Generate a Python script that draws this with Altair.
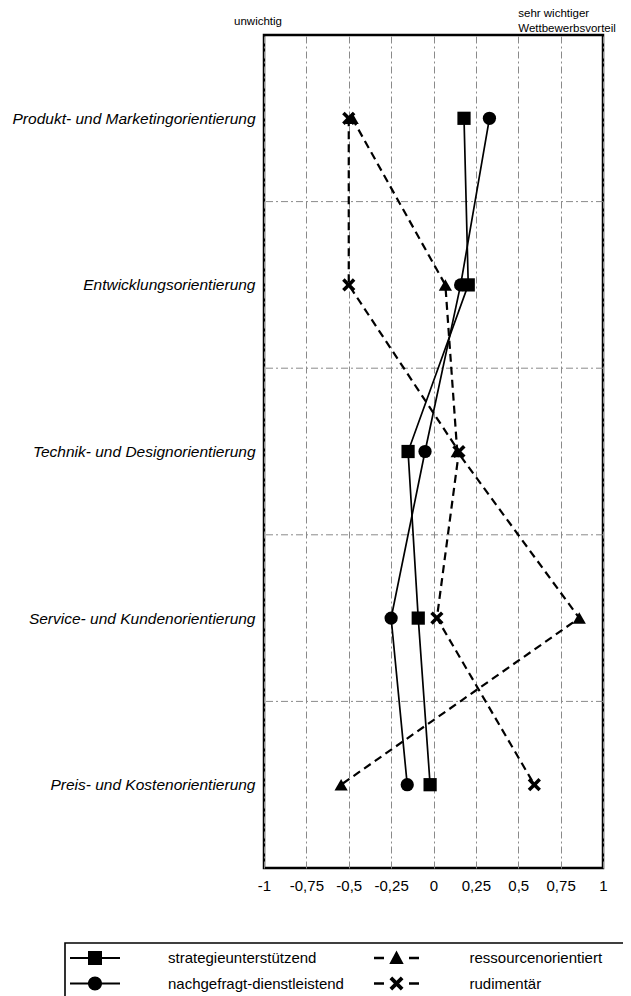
import json
import altair as alt
import pandas as pd

# ---------------- data ----------------
categories = [
    "Produkt- und Marketingorientierung",
    "Entwicklungsorientierung",
    "Technik- und Designorientierung",
    "Service- und Kundenorientierung",
    "Preis- und Kostenorientierung",
]
series_names = [
    "strategieunterstützend",
    "nachgefragt-dienstleistend",
    "ressourcenorientiert",
    "rudimentär",
]
strategieunterstuetzend = [0.18, 0.205, -0.15, -0.09, -0.02]
nachgefragt_dienstleistend = [0.33, 0.16, -0.05, -0.25, -0.155]
ressourcenorientiert = [-0.48, 0.07, 0.14, 0.86, -0.545]
rudimentaer = [-0.50, -0.50, 0.15, 0.02, 0.595]

x_ticks = [-1, -0.75, -0.5, -0.25, 0, 0.25, 0.5, 0.75, 1]
band_edges = [0.5, 1.5, 2.5, 3.5]
label_left = "unwichtig"
label_right = "sehr wichtiger\nWettbewerbsvorteil"

solid_series = series_names[:2]
dashed_series = series_names[2:]

rows = []
for s, vals in zip(series_names, [strategieunterstuetzend, nachgefragt_dienstleistend,
                                  ressourcenorientiert, rudimentaer]):
    for i, v in enumerate(vals):
        rows.append({"serie": s, "idx": i, "kategorie": categories[i], "wert": v})
df = pd.DataFrame(rows)
df_edges = pd.DataFrame({"edge": band_edges})

# ---------------- symbols ----------------
X_PATH = ("M-1,-0.62L-0.62,-1L0,-0.38L0.62,-1L1,-0.62L0.38,0L1,0.62L0.62,1"
          "L0,0.38L-0.62,1L-1,0.62L-0.38,0Z")
# legend glyphs (line + marker); all parts filled, clockwise
TOP = "M0,-1.2"                       # extends entry bounds upward
RIGHT = "M22.3,0"                     # extends right column to the box edge
SOLID_LINE = "M-2.5,-0.1H2.5V0.1H-2.5Z"
DASH_LINE = "M-2.25,-0.12H-1.25V0.12H-2.25ZM1.25,-0.12H2.25V0.12H1.25Z"
SQ = "M-0.7,-0.7H0.7V0.7H-0.7Z"
CI = "M-0.7,0A0.7,0.7 0 1,1 0.7,0A0.7,0.7 0 1,1 -0.7,0Z"
TRI = "M0,-0.75L0.72,0.6L-0.72,0.6Z"
XS = ("M-0.7,-0.43L-0.43,-0.7L0,-0.27L0.43,-0.7L0.7,-0.43L0.27,0L0.7,0.43L0.43,0.7"
      "L0,0.27L-0.43,0.7L-0.7,0.43L-0.27,0Z")
legend_paths = [
    TOP + SOLID_LINE + SQ,
    TOP + SOLID_LINE + CI,
    TOP + RIGHT + DASH_LINE + TRI,
    TOP + RIGHT + DASH_LINE + XS,
]

FONT = "Liberation Sans"
label_expr_y = "[" + ",".join(json.dumps(c) for c in categories) + "][datum.value]"


def x_enc(field):
    return alt.X(
        f"{field}:Q",
        scale=alt.Scale(domain=[-1, 1], nice=False, zero=False),
        axis=alt.Axis(
            values=x_ticks,
            labelExpr="replace(toString(datum.value), '.', ',')",
            title=None, ticks=False, domain=False, grid=True,
            gridColor="#8a8a8a", gridDash=[7, 3, 2, 3], gridWidth=1,
            labelFont=FONT, labelFontSize=15, labelFontWeight="normal",
            labelColor="black", labelPadding=10, labelFlush=False,
        ),
    )


def y_enc(field):
    return alt.Y(
        f"{field}:Q",
        scale=alt.Scale(domain=[-0.5, 4.5], reverse=True, nice=False, zero=False),
        axis=alt.Axis(
            values=[0, 1, 2, 3, 4],
            labelExpr=label_expr_y,
            title=None, ticks=False, domain=False, grid=False,
            labelFont=FONT, labelFontSize=15.5, labelFontStyle="italic",
            labelColor="black", labelPadding=9, labelLimit=400, labelFlush=False,
        ),
    )


grid_rows = alt.Chart(df_edges).mark_rule(
    color="#8a8a8a", strokeDash=[7, 3, 2, 3], strokeWidth=1
).encode(y=y_enc("edge"))

lines_solid = alt.Chart(df).transform_filter(
    alt.FieldOneOfPredicate(field="serie", oneOf=solid_series)
).mark_line(color="black", strokeWidth=1.7).encode(
    x=x_enc("wert"), y=y_enc("idx"), detail="serie:N", order="idx:Q"
)

lines_dashed = alt.Chart(df).transform_filter(
    alt.FieldOneOfPredicate(field="serie", oneOf=dashed_series)
).mark_line(color="black", strokeWidth=2.2, strokeDash=[8, 5]).encode(
    x=x_enc("wert"), y=y_enc("idx"), detail="serie:N", order="idx:Q"
)

points = alt.Chart(df).mark_point(
    filled=True, color="black", size=175, opacity=1
).encode(
    x=x_enc("wert"), y=y_enc("idx"),
    shape=alt.Shape(
        "serie:N",
        scale=alt.Scale(domain=series_names,
                        range=["square", "circle", "triangle-up", X_PATH]),
        legend=None,
    ),
)

legend_layer = alt.Chart(df).transform_filter("false").mark_point(
    filled=True, fill="black", strokeWidth=0, opacity=1
).encode(
    x=x_enc("wert"), y=y_enc("idx"),
    shape=alt.Shape(
        "serie:N",
        scale=alt.Scale(domain=series_names, range=legend_paths),
        legend=alt.Legend(
            title=None, orient="none", legendX=-199, legendY=908,
            columns=2, columnPadding=27.5, rowPadding=5.5,
            symbolSize=400, symbolOffset=15, symbolStrokeWidth=0,
            symbolFillColor="black", symbolOpacity=1,
            labelFont=FONT, labelFontSize=15, labelColor="black",
            labelOffset=63, labelLimit=400,
            strokeColor="black", fillColor="white", padding=5,
        ),
    ),
)

txt_left = alt.Chart(pd.DataFrame({"t": [label_left]})).mark_text(
    align="center", baseline="bottom", dx=-6, font=FONT, fontSize=11.5, color="black"
).encode(x=alt.datum(-1), y=alt.value(-8), text="t:N")

txt_right = alt.Chart(pd.DataFrame({"t": [label_right]})).mark_text(
    align="left", baseline="bottom", lineBreak="\n", lineHeight=15,
    font=FONT, fontSize=11.5, color="black"
).encode(x=alt.datum(0.5), y=alt.value(-16), text="t:N")

chart = alt.layer(
    grid_rows, lines_solid, lines_dashed, points, legend_layer, txt_left, txt_right
).resolve_scale(shape="independent").properties(
    width=339, height=833,
    padding={"left": 256, "top": 27, "right": 20, "bottom": 128},
    autosize=alt.AutoSizeParams(type="none"),
).configure_view(stroke="black", strokeWidth=2.5).configure_legend(strokeWidth=1.6)

chart.save("out.html", embed_options={"renderer": "svg", "actions": False})
